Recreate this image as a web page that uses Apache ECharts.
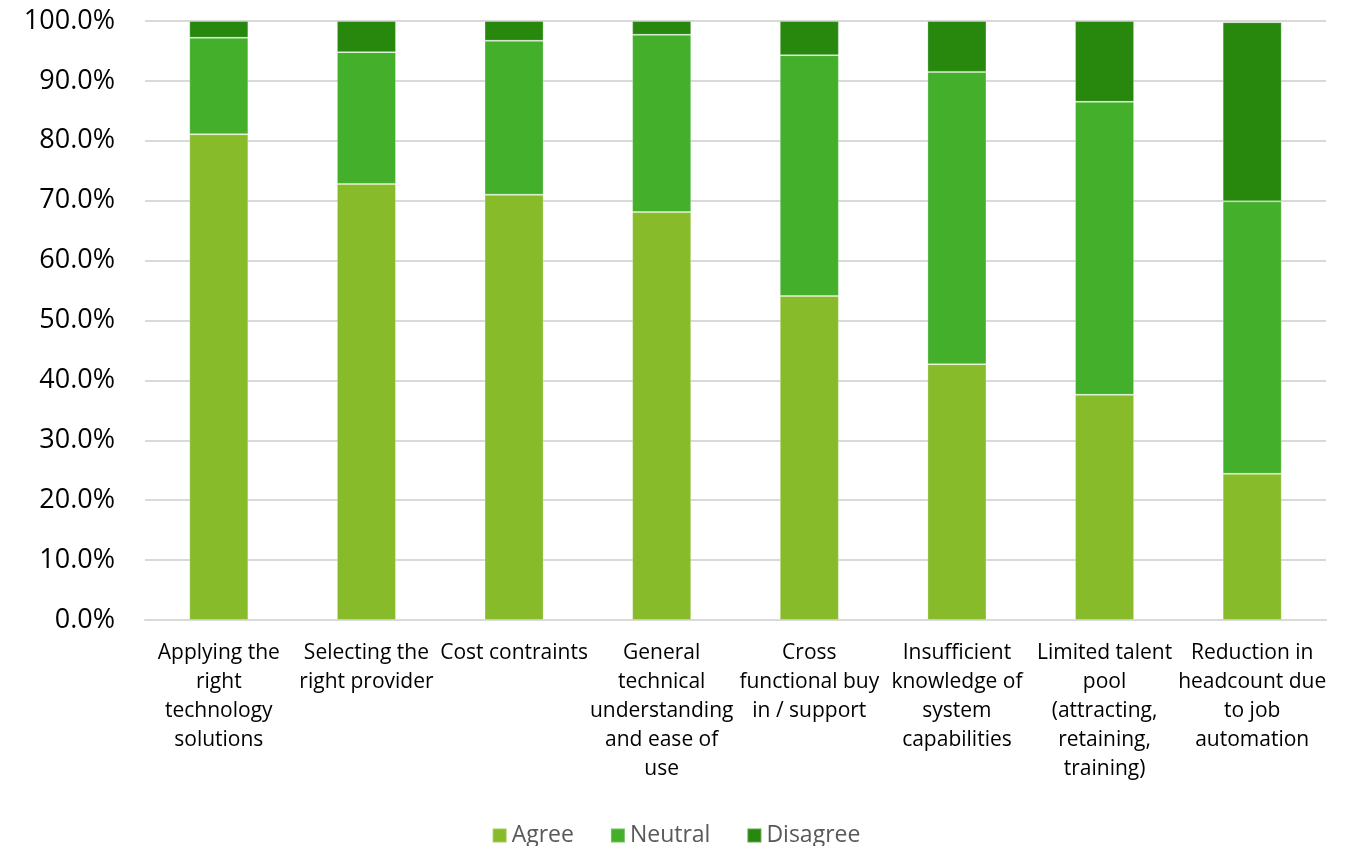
<!DOCTYPE html>
<html><head><meta charset="utf-8">
<script src="https://cdn.jsdelivr.net/npm/echarts@6/dist/echarts.min.js"></script>
<style>html,body{margin:0;padding:0;background:#fff}#c{width:1352px;height:846px}</style>
</head><body><div id="c"></div>
<script>
const categories = [
  "Applying the\nright\ntechnology\nsolutions",
  "Selecting the\nright provider",
  "Cost contraints",
  "General\ntechnical\nunderstanding\nand ease of\nuse",
  "Cross\nfunctional buy\nin / support",
  "Insufficient\nknowledge of\nsystem\ncapabilities",
  "Limited talent\npool\n(attracting,\nretaining,\ntraining)",
  "Reduction in\nheadcount due\nto job\nautomation"
];
const agree    = [81.1, 72.8, 71.0, 68.1, 54.1, 42.7, 37.6, 24.4];
const neutral  = [16.1, 22.0, 25.7, 29.6, 40.2, 48.8, 48.9, 45.5];
const disagree = [2.8, 5.2, 3.3, 2.3, 5.7, 8.5, 13.5, 29.9];
const seriesNames = ["Agree", "Neutral", "Disagree"];
const colors = ["#88BB2A", "#43AF2B", "#28880E"];

const font = "'Open Sans', 'Liberation Sans', sans-serif";
const chart = echarts.init(document.getElementById('c'));
const mk = (name, data, color) => ({
  name, type: 'bar', stack: 'total', data, barWidth: '40%',
  itemStyle: { color, borderColor: 'rgba(255,255,255,0.25)', borderWidth: 1 },
  emphasis: { disabled: true }
});
chart.setOption({
  animation: false,
  color: colors,
  grid: { left: 145, right: 26, top: 21, bottom: 226 },
  legend: {
    bottom: -6, left: 'center', itemWidth: 14, itemHeight: 14, itemGap: 36,
    icon: 'rect',
    textStyle: { fontFamily: font, fontSize: 23, color: '#595959' },
    data: seriesNames
  },
  xAxis: {
    type: 'category', data: categories,
    axisLine: { lineStyle: { color: '#D9D9D9', width: 2 } },
    axisTick: { show: false },
    axisLabel: { interval: 0, fontFamily: font, fontSize: 21, color: '#000', lineHeight: 29, margin: 19 }
  },
  yAxis: {
    type: 'value', min: 0, max: 100, interval: 10,
    axisLine: { show: false }, axisTick: { show: false },
    splitLine: { lineStyle: { color: '#D9D9D9', width: 2 } },
    axisLabel: { fontFamily: font, fontSize: 27, color: '#000', margin: 30,
      formatter: v => v.toFixed(1) + '%' }
  },
  series: [
    mk(seriesNames[0], agree, colors[0]),
    mk(seriesNames[1], neutral, colors[1]),
    mk(seriesNames[2], disagree, colors[2])
  ]
});
</script></body></html>
